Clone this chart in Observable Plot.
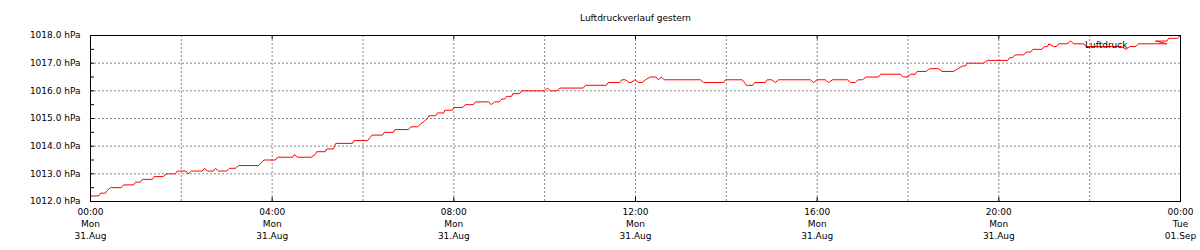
<!DOCTYPE html>
<html><head><meta charset="utf-8">
<script src="https://cdn.jsdelivr.net/npm/d3@7"></script>
<script src="https://cdn.jsdelivr.net/npm/@observablehq/plot@0.6"></script>
<style>body{margin:0;background:#fff}</style>
</head><body><div id="chart"></div>
<script>
const title = "Luftdruckverlauf gestern";
const seriesName = "Luftdruck";
const startDate = "2020-08-31T00:00:00Z";
const endDate = "2020-09-01T00:00:00Z";

// hours since 31.Aug 00:00 and pressure in hPa
const hours = [
  0.00,0.18,0.22,0.33,0.37,0.44,0.68,0.73,0.95,0.99,1.10,1.14,1.36,1.40,1.60,1.67,1.87,1.91,2.10,2.15,
  2.22,2.46,2.51,2.58,2.70,2.75,2.82,3.00,3.06,3.19,3.26,3.70,3.76,3.82,4.07,4.12,4.45,4.49,4.55,4.86,
  4.95,4.98,5.17,5.20,5.35,5.37,5.40,5.77,5.80,6.10,6.15,6.20,6.43,6.47,6.67,6.70,7.00,7.05,7.20,7.27,
  7.35,7.42,7.45,7.60,7.64,7.78,7.80,7.97,8.00,8.20,8.25,8.43,8.48,8.77,8.82,8.90,9.00,9.05,9.12,9.16,
  9.27,9.30,9.45,9.49,10.00,10.06,10.13,10.28,10.33,10.85,10.90,11.36,11.40,11.65,11.70,11.78,11.86,11.90,11.99,12.07,
  12.15,12.22,12.33,12.45,12.50,12.57,12.63,13.43,13.50,13.94,13.98,14.35,14.40,14.44,14.58,14.62,14.86,14.90,15.00,15.08,
  15.15,15.85,15.92,16.00,16.18,16.25,16.34,16.67,16.73,16.84,16.90,17.00,17.08,17.35,17.40,17.83,17.90,18.00,18.05,18.16,
  18.20,18.40,18.47,18.67,18.75,19.00,19.10,19.20,19.27,19.30,19.66,19.75,20.20,20.24,20.30,20.36,20.55,20.60,20.70,20.75,
  20.95,21.00,21.07,21.10,21.20,21.27,21.32,21.50,21.58,21.65,21.87,21.92,22.70,22.80,22.88,23.02,23.07,23.70,23.45,23.70,
  23.74,23.93,24.00
];
const pressure = [
  1012.2,1012.2,1012.3,1012.3,1012.4,1012.5,1012.5,1012.6,1012.6,1012.7,1012.7,1012.8,1012.8,1012.9,1012.9,1013.0,1013.0,1013.1,1013.1,1013.0,
  1013.1,1013.1,1013.2,1013.1,1013.1,1013.2,1013.1,1013.1,1013.2,1013.2,1013.3,1013.3,1013.4,1013.5,1013.5,1013.6,1013.6,1013.7,1013.6,1013.6,
  1013.7,1013.8,1013.8,1013.9,1013.9,1014.0,1014.1,1014.1,1014.2,1014.2,1014.3,1014.4,1014.4,1014.5,1014.5,1014.6,1014.6,1014.7,1014.7,1014.8,
  1014.9,1015.0,1015.1,1015.1,1015.2,1015.2,1015.3,1015.3,1015.4,1015.4,1015.5,1015.5,1015.6,1015.6,1015.5,1015.6,1015.6,1015.7,1015.7,1015.8,
  1015.8,1015.9,1015.9,1016.0,1016.0,1016.1,1016.0,1016.0,1016.1,1016.1,1016.2,1016.2,1016.3,1016.3,1016.4,1016.4,1016.3,1016.3,1016.4,1016.3,
  1016.3,1016.4,1016.5,1016.5,1016.4,1016.5,1016.4,1016.4,1016.3,1016.3,1016.4,1016.4,1016.3,1016.2,1016.2,1016.3,1016.3,1016.4,1016.4,1016.3,
  1016.4,1016.4,1016.3,1016.4,1016.4,1016.3,1016.4,1016.4,1016.3,1016.3,1016.4,1016.4,1016.5,1016.5,1016.6,1016.6,1016.5,1016.5,1016.6,1016.6,
  1016.7,1016.7,1016.8,1016.8,1016.7,1016.7,1016.8,1016.9,1016.9,1017.0,1017.0,1017.1,1017.1,1017.2,1017.2,1017.3,1017.3,1017.4,1017.4,1017.5,
  1017.5,1017.6,1017.6,1017.7,1017.6,1017.6,1017.7,1017.7,1017.8,1017.7,1017.7,1017.6,1017.6,1017.5,1017.6,1017.6,1017.7,1017.7,1017.8,1017.8,
  1017.9,1017.9,1018.0
];

const yTicks = [1012, 1013, 1014, 1015, 1016, 1017, 1018];
const yMinorTicks = [1012.5, 1013.5, 1014.5, 1015.5, 1016.5, 1017.5];
const xLabelHours = [0, 4, 8, 12, 16, 20, 24];
const xGridHours = [2, 4, 6, 8, 10, 12, 14, 16, 18, 20, 22];

const t0 = new Date(startDate);
const toDate = h => new Date(+t0 + h * 3600e3);
const data = hours.map((h, i) => ({time: toDate(h), value: pressure[i]}));
const xLabelDates = xLabelHours.map(toDate);
const xGridDates = xGridHours.map(toDate);
const fmtTime = d3.utcFormat("%H:%M"), fmtDay = d3.utcFormat("%a"), fmtDate = d3.utcFormat("%d.%b");

const W = 1200, H = 250, mt = 35, mb = 49, ml = 90, mr = 20;
const plotW = W - ml - mr, plotH = H - mt - mb;

const chart = Plot.plot({
  width: W, height: H,
  marginTop: mt, marginBottom: mb, marginLeft: ml, marginRight: mr,
  style: {fontFamily: "DejaVu Sans", fontSize: "9px", color: "#000", background: "#fff"},
  x: {type: "utc", domain: [new Date(startDate), new Date(endDate)], label: null},
  y: {domain: [1012, 1018], label: null},
  marks: [
    Plot.gridY(yTicks.slice(1, -1), {stroke: "#888", strokeOpacity: 1, strokeDasharray: "2,2"}),
    Plot.gridX(xGridDates, {stroke: "#888", strokeOpacity: 1, strokeDasharray: "2,2"}),
    Plot.tickY(yTicks.concat(yMinorTicks), {y: d => d, stroke: "#000", insetRight: plotW - 4}),
    Plot.tickX(xLabelDates, {x: d => d, stroke: "#000", insetTop: plotH - 4}),
    Plot.tickX(xLabelDates, {x: d => d, stroke: "#000", insetBottom: plotH - 4}),
    Plot.axisY(yTicks, {tickSize: 0, tickPadding: 10, label: null, tickFormat: d => d.toFixed(1) + " hPa", fontSize: 9}),
    Plot.axisX(xLabelDates, {tickSize: 0, tickPadding: 5, label: null, lineHeight: 1.35, fontSize: 9,
      tickFormat: d => [fmtTime(d), fmtDay(d), fmtDate(d)].join("\n")}),
    Plot.line(data, {x: "time", y: "value", stroke: "#ff0000", strokeWidth: 1, curve: "linear"}),
    Plot.frame({stroke: "#000"}),
    Plot.text([seriesName], {frameAnchor: "top-right", dx: -53, dy: 6, textAnchor: "end", fontSize: 9, fill: "#000"}),
    Plot.text([title], {frameAnchor: "top", dy: -21, fontSize: 9, fill: "#000"})
  ]
});
document.getElementById("chart").appendChild(chart);
</script>
</body></html>
